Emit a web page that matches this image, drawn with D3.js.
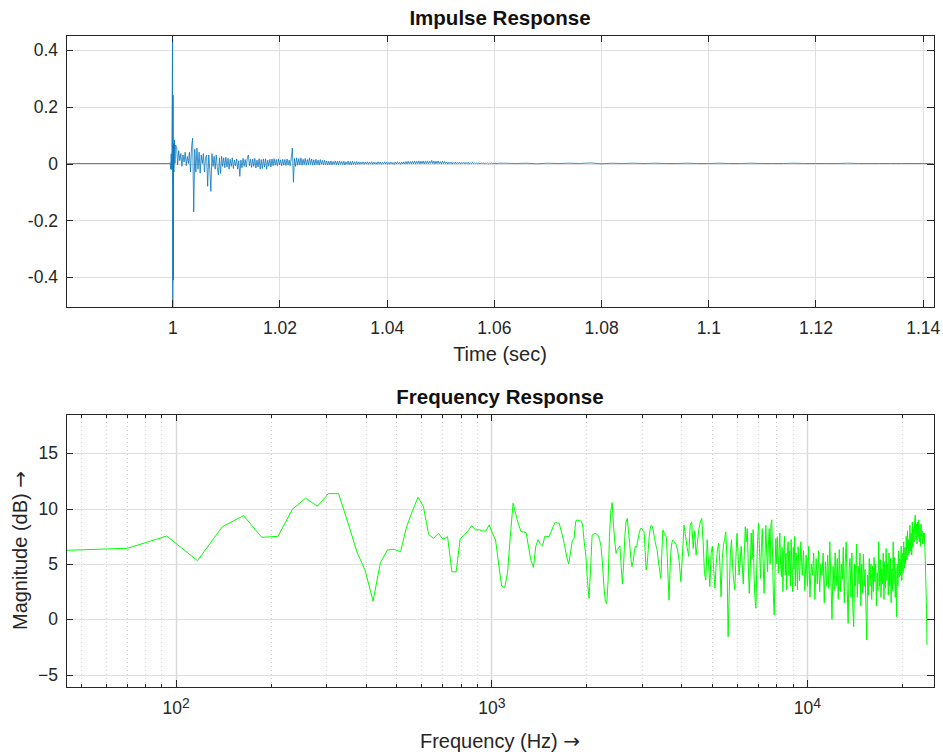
<!DOCTYPE html>
<html>
<head>
<meta charset="utf-8">
<script src="https://cdn.jsdelivr.net/npm/d3@7"></script>
<style>
  body { margin: 0; background: #fff; }
  svg { display: block; font-family: "Liberation Sans", Arial, Helvetica, sans-serif; }
</style>
</head>
<body>
<svg id="chart" width="943" height="754"></svg>
<script>
// ---- impulse response (seconds, amplitude) ----
const irOnsetTimes = [0.9802, 0.9994, 0.9996, 0.9997, 0.9998, 0.9999, 1.00005, 1.0001, 1.00015, 1.0002, 1.00025, 1.0003, 1.0004, 1.0005, 1.0006];
const irOnsetValues = [0, 0, 0.003, -0.02, 0.034, -0.022, 0.452, -0.504, 0.24, -0.41, 0.07, -0.03, 0.083, 0.0, 0.065];

const irBodyStart = 1.0008;
const irBodyStep = 0.0002;
const irBodyValues = [
  0.06, -0.005, 0.045, 0.01, 0.035, -0.01, 0.03, 0.005, 0.04, -0.008,
  0.025, 0.0, 0.04, -0.03, 0.06, 0.089, -0.17, 0.05, -0.03, 0.054,
  -0.02, 0.04, -0.034, 0.03, 0.0, 0.035, -0.03, 0.02, 0.03, -0.08,
  0.03, -0.02, -0.098, 0.035, -0.01, 0.025, -0.02, 0.03, -0.015, -0.04,
  0.02, -0.035, 0.025, -0.01, 0.02, -0.015, 0.022, -0.012, 0.018, -0.02,
  0.015, -0.01, 0.02, -0.018, 0.012, -0.008, 0.016, -0.02, 0.01, -0.045,
  0.012, -0.015, 0.018, -0.01, 0.014, -0.012, 0.02, 0.03, -0.008, 0.015,
  -0.014, 0.016, -0.01, 0.018, -0.016, 0.012, -0.012, 0.017, -0.02, 0.014,
  -0.018, 0.016, -0.012, 0.017, -0.02, 0.012, -0.01, 0.015, -0.012, 0.016,
  -0.008, 0.017, -0.006, 0.014, -0.008, 0.016, -0.005, 0.013, -0.008, 0.015,
  -0.006, 0.014, -0.007, 0.016, -0.006, 0.012, -0.008, 0.02, 0.054, -0.066,
  0.018, -0.01, 0.02, -0.006, 0.017, -0.005, 0.02, -0.006, 0.015, -0.004,
  0.018, -0.006, 0.014, -0.005, 0.02, -0.004, 0.016, -0.006, 0.013, -0.005,
  0.015, -0.004, 0.012, -0.006, 0.014, -0.003, 0.011, -0.005, 0.012, -0.004,
  0.009, -0.005, 0.008, -0.004, 0.009, -0.005, 0.007, -0.003, 0.009, -0.004,
  0.008, -0.005, 0.009, -0.003, 0.007, -0.004, 0.008, -0.005, 0.006, -0.003,
  0.008, -0.004, 0.007, -0.005, 0.008, -0.003, 0.006, -0.004, 0.007, -0.003,
  0.006, -0.003, 0.005, -0.002, 0.006, -0.003, 0.005, -0.002, 0.006, -0.003,
  0.005, -0.002, 0.006, -0.003, 0.005, -0.002, 0.004, -0.003, 0.006, -0.002,
  0.005, -0.003, 0.004, -0.002, 0.006, -0.002, 0.005, -0.003, 0.004, -0.002,
  0.005, -0.002, 0.004, -0.003, 0.005, -0.002, 0.006, -0.002, 0.004, -0.003,
  0.005, -0.002, 0.006, -0.002, 0.007, -0.002, 0.008, -0.001, 0.007, -0.002,
  0.008, -0.001, 0.009, -0.002, 0.008, -0.001, 0.009, -0.002, 0.008, -0.001,
  0.009, -0.002, 0.008, -0.001, 0.009, -0.002, 0.008, 0.0, 0.011, -0.001,
  0.009, -0.002, 0.008, -0.001, 0.009, -0.001, 0.007, -0.002, 0.008, -0.001,
  0.007, -0.001, 0.006, -0.002, 0.005, -0.001, 0.005, -0.002, 0.004, -0.001,
  0.005, -0.002, 0.004, -0.001, 0.005, -0.002, 0.004, -0.001, 0.004, -0.002,
  0.004, -0.001, 0.004, -0.002, 0.003, -0.001, 0.004, -0.001, 0.003, -0.001,
  0.002, -0.001, 0.002, -0.001, 0.002, 0.0, 0.002, -0.001, 0.001, 0.0,
  0.002, -0.001, 0.001, 0.0, 0.002, -0.001, 0.001, 0.0, 0.001, -0.001,
  0.001,
];

const irTailStart = 1.062;
const irTailStep = 0.002;
const irTailValues = [
  0.001, 0.0, 0.001, -0.001, 0.001, 0.0, 0.001, 0.0, 0.002, -0.001,
  0.001, 0.0, 0.001, 0.0, 0.001, 0.0, 0.0, 0.001, 0.0, 0.0,
  0.001, 0.0, 0.0, 0.001, 0.0, 0.0, 0.0, 0.001, 0.0, 0.0,
  0.0, 0.0, 0.001, 0.0, 0.0, 0.0, 0.0, 0.0, 0.0, 0.0, 0.0,
];

// ---- frequency response (dB per FFT bin) ----
const binHz = 23.4375;
// bins 1..160
const magLow = [
  6.1, 6.25, 6.42, 7.53, 5.3, 8.37, 9.37, 7.41, 7.5, 9.95,
  10.94, 10.22, 11.36, 11.36, 8.7, 6.11, 4.4, 1.65, 5.12, 6.27,
  6.33, 6.11, 8.37, 9.8, 11.03, 10.18, 7.68, 7.32, 7.77, 7.23,
  7.47, 4.3, 4.28, 7.3, 7.6, 8.0, 8.46, 8.07, 8.1, 7.98,
  7.98, 8.53, 7.8, 7.17, 5.0, 3.0, 2.86, 4.16, 7.5, 10.49,
  9.5, 8.6, 7.92, 7.9, 7.83, 6.5, 5.3, 4.7, 6.6, 7.2,
  6.8, 6.63, 7.5, 7.5, 7.47, 7.92, 8.4, 8.77, 8.7, 8.68,
  8.0, 7.32, 6.5, 5.6, 5.0, 6.0, 7.1, 7.3, 8.9, 8.98,
  8.9, 8.9, 8.6, 7.0, 5.8, 3.5, 1.9, 4.5, 7.62, 7.7,
  7.77, 7.7, 7.62, 7.2, 6.57, 5.0, 3.0, 1.6, 1.4, 3.5,
  7.5, 9.8, 10.55, 8.5, 7.0, 5.97, 6.3, 6.5, 6.63, 4.8,
  3.19, 5.0, 7.5, 8.8, 9.13, 8.0, 6.87, 5.5, 4.76, 5.2,
  6.0, 6.6, 6.5, 7.0, 7.6, 8.0, 8.23, 8.2, 8.0, 7.9,
  6.2, 4.46, 5.0, 6.3, 7.5, 8.2, 8.5, 8.4, 8.0, 7.5,
  7.0, 6.6, 6.27, 5.5, 4.8, 4.2, 3.7, 6.0, 8.07, 7.9,
  7.7, 7.6, 7.4, 5.6, 3.5, 1.74, 4.2, 6.0, 6.8, 7.17,
];
// bins 162..400, every 2nd bin
const magMid = [
  7.0, 6.8, 6.27, 5.2, 3.4, 5.8, 8.5, 7.5, 6.5, 5.7,
  8.5, 8.8, 6.4, 8.0, 5.8, 7.0, 8.2, 8.8, 9.13, 7.0,
  4.15, 3.55, 7.2, 5.2, 2.95, 5.97, 6.6, 4.5, 2.8, 5.0,
  6.3, 6.9, 5.0, 2.04, 5.5, 6.7, 7.3, 7.9, 5.5, -1.57,
  2.5, 6.0, 7.2, 4.7, 3.5, 2.65, 5.5, 7.77, 6.0, 4.0,
  5.2, 6.6, 5.0, 3.2, 5.8, 8.37, 7.0, 8.2, 5.0, 2.35,
  4.5, 7.8, 5.5, 8.1, 4.0, 1.8, 1.0, 5.0, 7.5, 8.67,
  6.0, 3.7, 6.5, 8.2, 5.0, 2.35, 5.5, 8.5, 6.0, 4.3,
  6.8, 8.2, 5.0, 8.6, 9.0, 5.5, 2.0, 0.39, 4.5, 7.3,
  5.0, 7.47, 4.2, 6.0, 7.8, 5.0, 3.85, 6.5, 2.5, 6.0,
  7.5, 4.0, 5.97, 2.65, 6.57, 7.0, 4.0, 6.2, 3.0, 7.2,
  5.0, 2.5, 6.5, 4.5, 7.5, 3.0, 6.0, 5.2, 2.65, 6.57,
];
// bins 404..1024, every 4th bin
const magHigh = [
  3.5, 7.0, 4.0, 6.2, 2.6, 5.8, 3.0, 6.6, 2.0, 5.0,
  4.0, 6.0, 1.8, 5.5, 3.2, 6.2, 2.5, 5.0, 4.0, 6.0,
  1.5, 5.2, 3.0, 5.8, 2.8, 7.0, 3.5, 0.0, 4.8, 2.6,
  6.0, 3.0, 5.5, 1.8, 6.3, 2.5, 5.0, 3.6, 6.5, 1.5,
  5.2, 7.0, 2.8, -0.36, 4.5, 5.5, 2.0, 6.0, 1.0, -0.67,
  5.0, 3.0, 6.8, 2.0, 4.8, 3.2, 6.0, 1.2, 5.0, 2.4,
  5.9, 3.0, 4.5, 1.0, -1.87, 4.0, 2.2, 5.5, 3.0, 5.0,
  1.8, 4.8, 2.5, 5.6, 3.4, 5.0, 1.2, 4.2, 2.6, 7.0,
  3.0, 5.4, 2.0, 4.6, 3.2, 6.0, 1.8, 5.2, 2.8, 6.4,
  3.5, 5.0, 2.2, 6.0, 3.0, 5.5, 1.5, 4.5, 2.6, 7.0,
  3.2, 5.6, 2.0, 4.6, 0.24, 5.0, 3.0, 6.2, 3.8, 5.5,
  4.0, 6.6, 3.5, 6.0, 4.2, 7.0, 4.6, 6.5, 5.0, 7.5,
  5.4, 8.0, 5.8, 7.2, 6.0, 8.5, 6.2, 7.8, 5.8, 8.8,
  6.5, 8.2, 7.0, 9.0, 9.43, 7.2, 8.6, 6.8, 8.8, 7.4,
  9.0, 7.0, 8.4, 6.6, 8.6, 7.5, 8.0, 6.8, 7.8, 7.2,
  7.8, 6.5, 5.0, 3.0, 1.0, -2.3,
];

// ---- ticks ----
const timeTicks = [1, 1.02, 1.04, 1.06, 1.08, 1.1, 1.12, 1.14];
const ampTicks = [-0.4, -0.2, 0, 0.2, 0.4];
const dbTicks = [-5, 0, 5, 10, 15];
const freqDecades = [100, 1000, 10000];

const TEXT = "#262626";
const AXIS = "#262626";
const GRID = "#dfdfdf";
const FONT = 17.5;
const LABEL = 20;
const TITLE = 20.5;

const svg = d3.select("#chart");

const irPoints = [
  ...irOnsetTimes.map((t, i) => [t, irOnsetValues[i]]),
  ...irBodyValues.map((v, i) => [irBodyStart + i * irBodyStep, v]),
  ...irTailValues.map((v, i) => [irTailStart + i * irTailStep, v]),
];

const magPoints = [
  ...magLow.map((v, i) => [(1 + i) * binHz, v]),
  ...magMid.map((v, i) => [(162 + 2 * i) * binHz, v]),
  ...magHigh.map((v, i) => [(404 + 4 * i) * binHz, v]),
];

function styleAxis(g) {
  g.attr("font-family", null).attr("font-size", FONT);
  g.select(".domain").remove();
  g.selectAll(".tick line").attr("stroke", AXIS).attr("shape-rendering", "crispEdges");
  g.selectAll(".tick text").attr("fill", TEXT);
}

function drawFrame(box) {
  svg
    .append("rect")
    .attr("x", box.left)
    .attr("y", box.top)
    .attr("width", box.right - box.left)
    .attr("height", box.bottom - box.top)
    .attr("fill", "none")
    .attr("stroke", AXIS)
    .attr("stroke-width", 1)
    .attr("shape-rendering", "crispEdges");
}

function clipFor(id, box) {
  svg
    .append("clipPath")
    .attr("id", id)
    .append("rect")
    .attr("x", box.left)
    .attr("y", box.top)
    .attr("width", box.right - box.left)
    .attr("height", box.bottom - box.top);
}

// arrow glyph is drawn in DejaVu, which has the long MATLAB-like arrow
function arrowLabel(text, label) {
  text.append("tspan").text(label + " ");
  text.append("tspan").attr("font-family", "DejaVu Sans").text("\u2192");
}

// ================= Impulse Response =================
const boxT = { left: 66, right: 934, top: 35, bottom: 307 };
const xT = d3.scaleLinear().domain([0.98017, 1.14211]).range([boxT.left, boxT.right]);
const yT = d3.scaleLinear().domain([-0.5044, 0.4517]).range([boxT.bottom, boxT.top]);

const gridT = svg.append("g");
gridT
  .selectAll("line.v")
  .data(timeTicks)
  .join("line")
  .attr("x1", (d) => Math.round(xT(d)) + 0.5)
  .attr("x2", (d) => Math.round(xT(d)) + 0.5)
  .attr("y1", boxT.top)
  .attr("y2", boxT.bottom)
  .attr("stroke", GRID);
gridT
  .selectAll("line.h")
  .data(ampTicks)
  .join("line")
  .attr("x1", boxT.left)
  .attr("x2", boxT.right)
  .attr("y1", (d) => Math.round(yT(d)) + 0.5)
  .attr("y2", (d) => Math.round(yT(d)) + 0.5)
  .attr("stroke", GRID);

clipFor("clipT", boxT);
svg
  .append("path")
  .datum(irPoints)
  .attr("clip-path", "url(#clipT)")
  .attr("fill", "none")
  .attr("stroke", "#0072BD")
  .attr("stroke-width", 0.9)
  .attr("stroke-opacity", 0.85)
  .attr("stroke-linejoin", "round")
  .attr("d", d3.line().x((d) => xT(d[0])).y((d) => yT(d[1])));

drawFrame(boxT);

svg
  .append("g")
  .attr("transform", `translate(0,${boxT.bottom})`)
  .call(
    d3.axisBottom(xT).tickValues(timeTicks).tickSizeInner(-7).tickSizeOuter(0).tickPadding(15)
      .tickFormat((d) => String(+d.toFixed(2)))
  )
  .call(styleAxis);
svg
  .append("g")
  .attr("transform", `translate(0,${boxT.top})`)
  .call(d3.axisTop(xT).tickValues(timeTicks).tickSizeInner(-7).tickSizeOuter(0).tickFormat(""))
  .call(styleAxis);
svg
  .append("g")
  .attr("transform", `translate(${boxT.left},0)`)
  .call(
    d3.axisLeft(yT).tickValues(ampTicks).tickSizeInner(-7).tickSizeOuter(0).tickPadding(8)
      .tickFormat((d) => String(+d.toFixed(1)))
  )
  .call(styleAxis);
svg
  .append("g")
  .attr("transform", `translate(${boxT.right},0)`)
  .call(d3.axisRight(yT).tickValues(ampTicks).tickSizeInner(-7).tickSizeOuter(0).tickFormat(""))
  .call(styleAxis);

svg
  .append("text")
  .attr("x", (boxT.left + boxT.right) / 2)
  .attr("y", 25)
  .attr("text-anchor", "middle")
  .attr("font-size", TITLE)
  .attr("font-weight", "bold")
  .attr("fill", "#111")
  .text("Impulse Response");
svg
  .append("text")
  .attr("x", (boxT.left + boxT.right) / 2)
  .attr("y", 361)
  .attr("text-anchor", "middle")
  .attr("font-size", LABEL)
  .attr("fill", TEXT)
  .text("Time (sec)");

// ================= Frequency Response =================
const boxF = { left: 66, right: 934, top: 414, bottom: 687 };
const xF = d3.scaleLog().domain([44.93, 25256]).range([boxF.left, boxF.right]);
const yF = d3.scaleLinear().domain([-6.11, 18.55]).range([boxF.bottom, boxF.top]);

const freqAllTicks = xF.ticks();
const freqMinor = freqAllTicks.filter((d) => !freqDecades.includes(d));

const gridF = svg.append("g");
gridF
  .selectAll("line.minor")
  .data(freqMinor)
  .join("line")
  .attr("x1", (d) => Math.round(xF(d)) + 0.5)
  .attr("x2", (d) => Math.round(xF(d)) + 0.5)
  .attr("y1", boxF.top)
  .attr("y2", boxF.bottom)
  .attr("stroke", "#cfcfcf")
  .attr("stroke-dasharray", "1,3");
gridF
  .selectAll("line.major")
  .data(freqDecades)
  .join("line")
  .attr("x1", (d) => Math.round(xF(d)) + 0.5)
  .attr("x2", (d) => Math.round(xF(d)) + 0.5)
  .attr("y1", boxF.top)
  .attr("y2", boxF.bottom)
  .attr("stroke", "#d9d9d9")
  .attr("stroke-width", 1.5);
gridF
  .selectAll("line.h")
  .data(dbTicks)
  .join("line")
  .attr("x1", boxF.left)
  .attr("x2", boxF.right)
  .attr("y1", (d) => Math.round(yF(d)) + 0.5)
  .attr("y2", (d) => Math.round(yF(d)) + 0.5)
  .attr("stroke", GRID);

clipFor("clipF", boxF);
svg
  .append("path")
  .datum(magPoints)
  .attr("clip-path", "url(#clipF)")
  .attr("fill", "none")
  .attr("stroke", "#00FF00")
  .attr("stroke-width", 1)
  .attr("stroke-linejoin", "round")
  .attr("d", d3.line().x((d) => xF(d[0])).y((d) => yF(d[1])));

drawFrame(boxF);

const bottomF = svg
  .append("g")
  .attr("transform", `translate(0,${boxF.bottom})`)
  .call(d3.axisBottom(xF).tickValues(freqDecades).tickSizeInner(-7).tickSizeOuter(0).tickPadding(15))
  .call(styleAxis);
bottomF.selectAll(".tick text").each(function (d) {
  const t = d3.select(this);
  t.text(null).attr("dy", "0.71em");
  t.append("tspan").text("10");
  t.append("tspan").attr("dy", -6).attr("font-size", 14).text(Math.round(Math.log10(d)));
});
svg
  .append("g")
  .attr("transform", `translate(0,${boxF.bottom})`)
  .call(d3.axisBottom(xF).tickValues(freqMinor).tickSizeInner(-3.5).tickSizeOuter(0).tickFormat(""))
  .call(styleAxis);
svg
  .append("g")
  .attr("transform", `translate(0,${boxF.top})`)
  .call(d3.axisTop(xF).tickValues(freqDecades).tickSizeInner(-7).tickSizeOuter(0).tickFormat(""))
  .call(styleAxis);
svg
  .append("g")
  .attr("transform", `translate(0,${boxF.top})`)
  .call(d3.axisTop(xF).tickValues(freqMinor).tickSizeInner(-3.5).tickSizeOuter(0).tickFormat(""))
  .call(styleAxis);
svg
  .append("g")
  .attr("transform", `translate(${boxF.left},0)`)
  .call(d3.axisLeft(yF).tickValues(dbTicks).tickSizeInner(-7).tickSizeOuter(0).tickPadding(8))
  .call(styleAxis);
svg
  .append("g")
  .attr("transform", `translate(${boxF.right},0)`)
  .call(d3.axisRight(yF).tickValues(dbTicks).tickSizeInner(-7).tickSizeOuter(0).tickFormat(""))
  .call(styleAxis);

svg
  .append("text")
  .attr("x", (boxF.left + boxF.right) / 2)
  .attr("y", 404)
  .attr("text-anchor", "middle")
  .attr("font-size", TITLE)
  .attr("font-weight", "bold")
  .attr("fill", "#111")
  .text("Frequency Response");
svg
  .append("text")
  .attr("x", (boxF.left + boxF.right) / 2)
  .attr("y", 748)
  .attr("text-anchor", "middle")
  .attr("font-size", LABEL)
  .attr("fill", TEXT)
  .call(arrowLabel, "Frequency (Hz)");
svg
  .append("text")
  .attr("transform", `translate(27,${(boxF.top + boxF.bottom) / 2}) rotate(-90)`)
  .attr("text-anchor", "middle")
  .attr("font-size", LABEL)
  .attr("fill", TEXT)
  .call(arrowLabel, "Magnitude (dB)");
</script>
</body>
</html>
